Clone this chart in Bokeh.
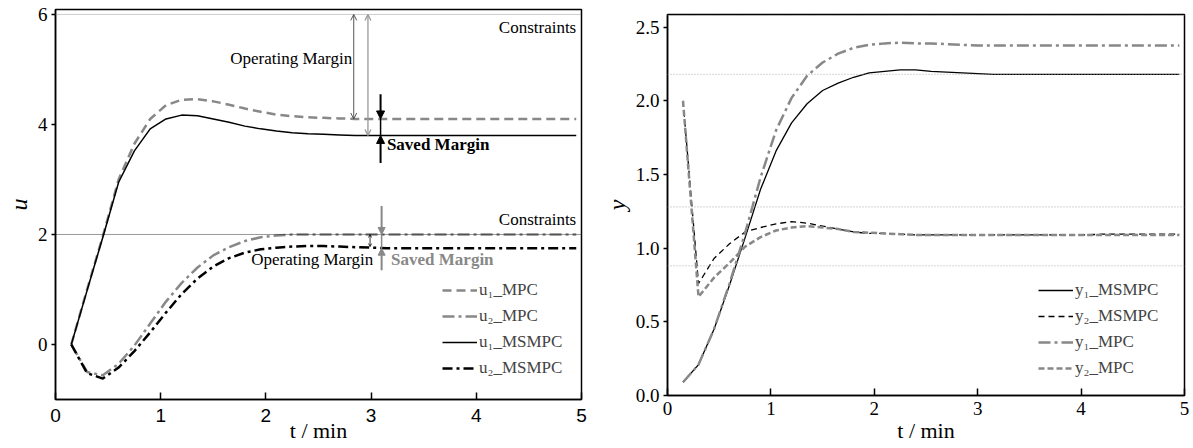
from bokeh.plotting import figure
from bokeh.layouts import row, column
from bokeh.models import (Range1d, FixedTicker, Span, Label, Arrow, NormalHead,
                          OpenHead, Legend, LegendItem, NumeralTickFormatter)
from bokeh.embed import file_html
from bokeh.resources import INLINE

# ---------------- data ----------------
t = [0.15, 0.30, 0.45, 0.60, 0.75, 0.90, 1.05, 1.20, 1.35, 1.50, 1.65,
     1.80, 1.95, 2.10, 2.25, 2.40, 2.55, 2.70, 2.85, 3.00, 3.15, 3.30,
     3.45, 3.60, 3.75, 3.90, 4.05, 4.20, 4.35, 4.50, 4.65, 4.80, 4.95]

u1_mpc = [0.00, 1.00, 1.97, 3.00, 3.65, 4.10, 4.35, 4.45, 4.46, 4.42, 4.36,
          4.29, 4.23, 4.18, 4.15, 4.13, 4.12, 4.11, 4.10, 4.10, 4.10, 4.10,
          4.10, 4.10, 4.10, 4.10, 4.10, 4.10, 4.10, 4.10, 4.10, 4.10, 4.10]
u2_mpc = [0.00, -0.50, -0.56, -0.35, -0.02, 0.38, 0.78, 1.12, 1.40, 1.62, 1.77,
          1.88, 1.95, 1.98, 2.00, 2.00, 2.00, 2.00, 2.00, 2.00, 2.00, 2.00,
          2.00, 2.00, 2.00, 2.00, 2.00, 2.00, 2.00, 2.00, 2.00, 2.00, 2.00]
u1_msmpc = [0.00, 0.98, 1.95, 2.95, 3.52, 3.92, 4.10, 4.17, 4.16, 4.10, 4.04,
            3.97, 3.92, 3.88, 3.85, 3.83, 3.82, 3.81, 3.80, 3.80, 3.80, 3.80,
            3.80, 3.80, 3.80, 3.80, 3.80, 3.80, 3.80, 3.80, 3.80, 3.80, 3.80]
u2_msmpc = [0.00, -0.52, -0.62, -0.42, -0.12, 0.22, 0.58, 0.92, 1.20, 1.42, 1.57,
            1.67, 1.73, 1.76, 1.78, 1.79, 1.79, 1.78, 1.77, 1.76, 1.75, 1.75,
            1.75, 1.75, 1.75, 1.75, 1.75, 1.75, 1.75, 1.75, 1.75, 1.75, 1.75]

y1_msmpc = [0.09, 0.21, 0.45, 0.75, 1.07, 1.40, 1.66, 1.85, 1.98, 2.07, 2.12,
            2.16, 2.19, 2.20, 2.21, 2.21, 2.20, 2.195, 2.19, 2.185, 2.18, 2.18,
            2.18, 2.18, 2.18, 2.18, 2.18, 2.18, 2.18, 2.18, 2.18, 2.18, 2.18]
y2_msmpc = [2.00, 0.76, 0.93, 1.03, 1.11, 1.14, 1.165, 1.18, 1.17, 1.15, 1.13,
            1.11, 1.10, 1.10, 1.095, 1.09, 1.09, 1.09, 1.09, 1.09, 1.09, 1.09,
            1.09, 1.09, 1.09, 1.09, 1.09, 1.095, 1.095, 1.095, 1.095, 1.095, 1.095]
y1_mpc = [0.09, 0.21, 0.45, 0.76, 1.10, 1.48, 1.80, 2.02, 2.17, 2.26, 2.32,
          2.36, 2.38, 2.39, 2.395, 2.39, 2.39, 2.385, 2.38, 2.375, 2.375, 2.375,
          2.375, 2.375, 2.375, 2.375, 2.375, 2.375, 2.375, 2.375, 2.375, 2.375, 2.375]
y2_mpc = [2.00, 0.67, 0.80, 0.90, 1.01, 1.075, 1.12, 1.14, 1.15, 1.14, 1.13,
          1.11, 1.105, 1.10, 1.095, 1.09, 1.09, 1.09, 1.09, 1.09, 1.09, 1.09,
          1.09, 1.09, 1.09, 1.09, 1.09, 1.09, 1.09, 1.09, 1.09, 1.09, 1.09]

u_constraints = [6.0, 2.0]
y_bounds = [2.58, 2.18, 1.28, 0.88]
x_ticks = [0, 1, 2, 3, 4, 5]
u_ticks = [0, 2, 4, 6]
y_ticks = [0.0, 0.5, 1.0, 1.5, 2.0, 2.5]

SERIF = "Liberation Serif"
SANS = "Liberation Sans"
GREY = "#888888"


def style(p, xfont, yfont, ylab, xlab_std, xstand, ystand):
    p.grid.visible = False
    p.outline_line_color = "black"
    p.outline_line_width = 1.5
    p.background_fill_color = "white"
    p.border_fill_color = "white"
    for ax in (p.xaxis[0], p.yaxis[0]):
        ax.axis_line_width = 1.5
        ax.major_tick_line_width = 1.5
        ax.minor_tick_line_color = None
        ax.major_label_text_color = "black"
        ax.major_label_text_font_size = "19px"
        ax.axis_label_text_font = SERIF
        ax.axis_label_text_color = "black"
    xa, ya = p.xaxis[0], p.yaxis[0]
    xa.major_tick_in = 7
    xa.major_tick_out = 0
    xa.major_label_standoff = xlab_std
    xa.major_label_text_font = xfont
    xa.axis_label = "t / min"
    xa.axis_label_text_font_style = "normal"
    xa.axis_label_text_font_size = "22px"
    xa.axis_label_standoff = xstand
    ya.major_tick_in = 0
    ya.major_tick_out = 4
    ya.major_label_standoff = 4
    ya.major_label_text_font = yfont
    ya.axis_label = ylab
    ya.axis_label_text_font_style = "italic"
    ya.axis_label_text_font_size = "24px"
    ya.axis_label_standoff = ystand


def make_legend(p, items, loc):
    lg = Legend(items=items, location=loc, padding=0, margin=0,
                border_line_alpha=0, background_fill_alpha=0,
                glyph_width=35, glyph_height=20, label_height=20, spacing=6,
                label_standoff=2, label_text_font=SERIF, label_text_font_size="17px")
    p.add_layout(lg)


def txt(p, x, y, s, align="left", bold=False, color="black"):
    p.add_layout(Label(x=x, y=y, text=s, text_font=SERIF, text_font_size="17px",
                       text_font_style="bold" if bold else "normal", text_color=color,
                       text_align=align, text_baseline="middle"))


# ---------------- left panel ----------------
p1 = figure(width=600, height=448, output_backend="svg", toolbar_location=None,
            x_range=Range1d(0, 5), y_range=Range1d(-1.0, 6.09),
            min_border_left=55, min_border_right=19, min_border_top=9, min_border_bottom=49)
style(p1, SANS, SERIF, "u", 9, -7, 3)
p1.xaxis.ticker = FixedTicker(ticks=x_ticks)
p1.yaxis.ticker = FixedTicker(ticks=u_ticks)

p1.add_layout(Span(location=u_constraints[0], dimension="width", line_color="#999999",
                   line_dash="1 1", line_width=1))
p1.add_layout(Span(location=u_constraints[1], dimension="width", line_color="black",
                   line_dash="1 1", line_width=0.8))

r_u1_mpc = p1.line(t, u1_mpc, line_color=GREY, line_width=2.5, line_dash="9 5")
r_u2_mpc = p1.line(t, u2_mpc, line_color=GREY, line_width=2.5, line_dash="12 4 3 4")
r_u1_ms = p1.line(t, u1_msmpc, line_color="black", line_width=1.5)
r_u2_ms = p1.line(t, u2_msmpc, line_color="black", line_width=2.5, line_dash="10 4 3 4")

make_legend(p1, [LegendItem(label="u\u2081_MPC", renderers=[r_u1_mpc]),
                 LegendItem(label="u\u2082_MPC", renderers=[r_u2_mpc]),
                 LegendItem(label="u\u2081_MSMPC", renderers=[r_u1_ms]),
                 LegendItem(label="u\u2082_MSMPC", renderers=[r_u2_ms])], (387, 21))

# operating-margin arrows (upper)
p1.add_layout(Arrow(x_start=2.835, y_start=u_constraints[0], x_end=2.835, y_end=u1_mpc[-1],
                    line_color="#444444", line_width=0.9,
                    start=OpenHead(size=6, line_color="#444444", line_width=0.9),
                    end=OpenHead(size=6, line_color="#444444", line_width=0.9)))
p1.add_layout(Arrow(x_start=2.97, y_start=u_constraints[0], x_end=2.97, y_end=u1_msmpc[-1],
                    line_color="#999999", line_width=1.3,
                    start=OpenHead(size=6, line_color="#999999", line_width=1.3),
                    end=OpenHead(size=6, line_color="#999999", line_width=1.3)))
# saved margin (upper) - black
p1.add_layout(Arrow(x_start=3.09, y_start=4.55, x_end=3.09, y_end=u1_mpc[-1],
                    line_color="black", line_width=2,
                    end=NormalHead(size=8, fill_color="black", line_color="black")))
p1.add_layout(Arrow(x_start=3.09, y_start=3.30, x_end=3.09, y_end=u1_msmpc[-1],
                    line_color="black", line_width=2,
                    end=NormalHead(size=8, fill_color="black", line_color="black")))
p1.add_layout(Arrow(x_start=3.09, y_start=u1_mpc[-1], x_end=3.09, y_end=u1_msmpc[-1],
                    line_color="black", line_width=1.5, end=None))
# lower arrows
p1.add_layout(Arrow(x_start=2.99, y_start=u_constraints[1], x_end=2.99, y_end=u2_msmpc[-1] + 0.03,
                    line_color="black", line_width=0.8,
                    start=OpenHead(size=3, line_color="black", line_width=0.8),
                    end=OpenHead(size=3, line_color="black", line_width=0.8)))
p1.add_layout(Arrow(x_start=3.10, y_start=2.52, x_end=3.10, y_end=u2_mpc[-1],
                    line_color=GREY, line_width=2,
                    end=NormalHead(size=7, fill_color=GREY, line_color=GREY)))
p1.add_layout(Arrow(x_start=3.10, y_start=1.35, x_end=3.10, y_end=u2_msmpc[-1],
                    line_color=GREY, line_width=2,
                    end=NormalHead(size=7, fill_color=GREY, line_color=GREY)))
p1.add_layout(Arrow(x_start=3.10, y_start=u2_mpc[-1], x_end=3.10, y_end=u2_msmpc[-1],
                    line_color=GREY, line_width=1.5, end=None))

txt(p1, 4.95, 5.77, "Constraints", align="right")
txt(p1, 2.82, 5.20, "Operating Margin", align="right")
txt(p1, 3.15, 3.63, "Saved Margin", bold=True)
txt(p1, 4.95, 2.27, "Constraints", align="right")
txt(p1, 3.02, 1.54, "Operating Margin", align="right")
txt(p1, 3.19, 1.54, "Saved Margin", bold=True, color=GREY)

# ---------------- right panel ----------------
p2 = figure(width=592, height=448, output_backend="svg", toolbar_location=None,
            x_range=Range1d(0, 5), y_range=Range1d(0, 2.586),
            min_border_left=67, min_border_right=8, min_border_top=14, min_border_bottom=53)
style(p2, SERIF, SERIF, "y", 6, 0, 3)
p2.xaxis.ticker = FixedTicker(ticks=x_ticks)
p2.yaxis.ticker = FixedTicker(ticks=y_ticks)
p2.yaxis.formatter = NumeralTickFormatter(format="0.0")

for b in y_bounds:
    p2.add_layout(Span(location=b, dimension="width", line_color="#a0a0a0",
                       line_dash="1 2", line_width=0.9))

r_y1_ms = p2.line(t, y1_msmpc, line_color="black", line_width=1.3)
r_y2_ms = p2.line(t, y2_msmpc, line_color="black", line_width=1.3, line_dash="6 4")
r_y1_mpc = p2.line(t, y1_mpc, line_color=GREY, line_width=2.5, line_dash="12 4 3 4")
r_y2_mpc = p2.line(t, y2_mpc, line_color=GREY, line_width=2.5, line_dash="6 3")

make_legend(p2, [LegendItem(label="y\u2081_MSMPC", renderers=[r_y1_ms]),
                 LegendItem(label="y\u2082_MSMPC", renderers=[r_y2_ms]),
                 LegendItem(label="y\u2081_MPC", renderers=[r_y1_mpc]),
                 LegendItem(label="y\u2082_MPC", renderers=[r_y2_mpc])], (371, 17))

layout = row(column(p1), column(p2))
open("out.html", "w").write(file_html(layout, INLINE))
